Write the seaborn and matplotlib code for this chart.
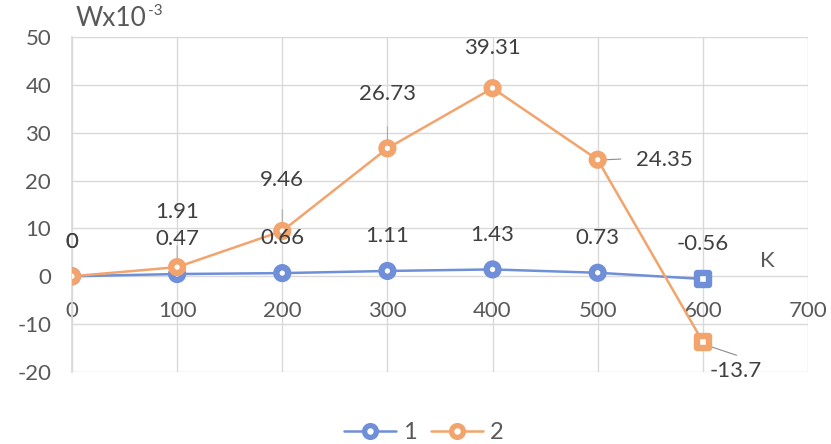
import matplotlib
matplotlib.use("Agg")
import matplotlib.pyplot as plt
import seaborn as sns
import pandas as pd
from matplotlib.lines import Line2D
from matplotlib.transforms import offset_copy

temps = [0, 100, 200, 300, 400, 500, 600]
series1 = [0, 0.47, 0.66, 1.11, 1.43, 0.73, -0.56]
series2 = [0, 1.91, 9.46, 26.73, 39.31, 24.35, -13.7]
series_names = ["1", "2"]
x_ticks = [0, 100, 200, 300, 400, 500, 600, 700]
y_ticks = [-20, -10, 0, 10, 20, 30, 40, 50]

blue = "#6f8fd8"
orange = "#f2a46c"
grid_c = "#d9d9d9"
text_c = "#595959"
label_c = "#404040"

sns.set_theme(style="white")
plt.rcParams["font.family"] = ["Lato", "DejaVu Sans"]
plt.rcParams["axes.unicode_minus"] = False

rows = []
for name, vals in zip(series_names, [series1, series2]):
    for i, (t, v) in enumerate(zip(temps, vals)):
        rows.append({"T": t, "W": v, "series": name,
                     "shape": "sq" if i == len(temps) - 1 else "ci"})
df = pd.DataFrame(rows)
palette = {"1": blue, "2": orange}

fig = plt.figure(figsize=(8.31, 4.44), dpi=100)
ax = fig.add_axes([0.0866, 0.1622, 0.8857, 0.7545])

sns.lineplot(data=df, x="T", y="W", hue="series", palette=palette,
             linewidth=1.8, legend=False, ax=ax, zorder=3)
sns.scatterplot(data=df, x="T", y="W", hue="series", style="shape",
                markers={"ci": "o", "sq": "s"}, palette=palette, s=72,
                linewidth=4.6, legend=False, ax=ax, zorder=5)
# hollow ring markers: outline in series colour, white centre
for coll in ax.collections:
    fc = coll.get_facecolors()
    coll.set_edgecolors(fc)
    coll.set_facecolor("white")

ax.set_xlim(0, 700)
ax.set_ylim(-20, 50)
ax.set_xticks(x_ticks)
ax.set_yticks(y_ticks)
ax.set_xlabel("")
ax.set_ylabel("")
ax.grid(True, color=grid_c, linewidth=1.0)
ax.set_axisbelow(True)
for s in ["top", "right"]:
    ax.spines[s].set_visible(False)
ax.spines["left"].set_color(grid_c)
ax.spines["bottom"].set_position(("data", 0))
ax.spines["bottom"].set_visible(False)
ax.tick_params(axis="both", length=0, labelsize=16, labelcolor=text_c)
ax.tick_params(axis="x", pad=18)
ax.tick_params(axis="y", pad=15)

fs = 16
# data labels, series 1 above each point
for t, v in zip(temps, series1):
    ax.annotate(f"{v:g}", (t, v), xytext=(0, 25), textcoords="offset points",
                ha="center", va="center", fontsize=fs, color=label_c, zorder=6)
# data labels, series 2
offsets2 = [(0, 25), (0, 40), (0, 37), (0, 39), (0, 29), (48, 0), (24, -21)]
for t, v, off in zip(temps, series2, offsets2):
    ax.annotate(f"{v:g}", (t, v), xytext=off, textcoords="offset points",
                ha="center", va="center", fontsize=fs, color=label_c, zorder=6)

# leader lines
lead = dict(arrowstyle="-", color="#8c8c8c", lw=0.8, shrinkA=0, shrinkB=0)
ax.annotate("", (508, 24.35), xytext=(522, 24.5), textcoords="data",
            arrowprops=lead, zorder=2)
ax.annotate("", (606, -14.6), xytext=(632, -16.5), textcoords="data",
            arrowprops=lead, zorder=2)
for t, v in zip(temps[1:4], series2[1:4]):
    ax.annotate("", (t, v + 1.5), xytext=(t, v + 4.5), textcoords="data",
                arrowprops=dict(arrowstyle="-", color="#a6a6a6", lw=0.7,
                                shrinkA=0, shrinkB=0), zorder=2)

# axis caption with a small superscript exponent
cap = ax.text(0.005, 1.055, "Wx10", transform=ax.transAxes, fontsize=19,
              color=text_c, ha="left", va="center")
fig.canvas.draw()
bb = cap.get_window_extent()
sup_tr = offset_copy(ax.transAxes, fig=fig, x=0, y=0, units="dots")
fig.text((bb.x1 + 1) / fig.bbox.width, (bb.y1 - 5) / fig.bbox.height, "-3",
         fontsize=11, color=text_c, ha="left", va="center")
ax.text(661, 3.1, "K", fontsize=16, color=text_c, ha="center", va="center")

handles = [Line2D([0], [0], color=c, lw=1.8, marker="o", markersize=8.5,
                  markerfacecolor="white", markeredgewidth=3.8, markeredgecolor=c)
           for c in (blue, orange)]
fig.legend(handles, series_names, loc="center", bbox_to_anchor=(0.51, 0.025),
           ncol=2, frameon=False, fontsize=17, handlelength=2.2,
           columnspacing=0.6, handletextpad=0.3, labelcolor=text_c)

fig.savefig("out.png", dpi=100, facecolor="white")
